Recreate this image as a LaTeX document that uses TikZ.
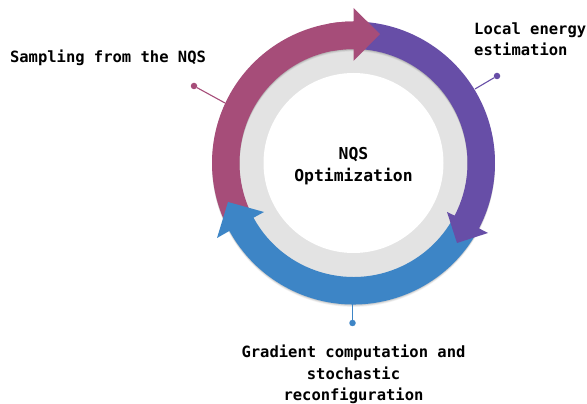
\documentclass[tikz,border=0pt]{standalone}
\usepackage{fontspec}
\setmainfont{DejaVu Sans Mono}
\definecolor{cred}{HTML}{A64D79}
\definecolor{cpur}{HTML}{674EA7}
\definecolor{cblu}{HTML}{3D85C6}
\definecolor{cgry}{HTML}{E3E3E3}
\def\Ro{141.5}
\def\Ri{114}
\begin{document}
\begin{tikzpicture}[x=1pt,y=1pt,
  label text/.style={font=\fontsize{15.5}{21.5}\selectfont\bfseries,text=black,align=center,inner sep=0pt},
  centre text/.style={font=\fontsize{16.4}{22}\selectfont\bfseries,text=black,align=center,inner sep=0pt},
  dot/.style={circle,fill=#1,inner sep=0pt,minimum size=6.5pt},
  leader/.style={draw=#1,line width=1.1pt}]
\useasboundingbox (0,0) rectangle (587,404);
\coordinate (C) at (353.5,241);
% grey ring
\fill[cgry] (C) circle (\Ri+2);
\fill[white] (C) circle (90);
% soft shadow, falling downwards only
\foreach \d/\o in {2.4/.05,1.6/.07,.8/.09}{
  \fill[black,opacity=\o,even odd rule] ([yshift=-\d pt]C) circle (\Ro) ([yshift=-\d pt]C) circle (\Ri);
}
% arrows
\fill[cred] ([shift={(205:\Ro)}]C) arc (205:90:\Ro) -- ([shift={(90:\Ri)}]C) arc (90:205:\Ri) -- cycle;
\fill[cblu] ([shift={(-29:\Ro)}]C) arc (-29:-151.3:\Ro) -- (217,166) -- (228,202) -- (264,192) -- ([shift={(-151.3:\Ri)}]C) arc (-151.3:-29:\Ri) -- cycle;
\fill[cpur] ([shift={(88:\Ro)}]C) arc (88:-27.5:\Ro) -- (488,171) -- (457,161) -- (447,192) -- ([shift={(-27.5:\Ri)}]C) arc (-27.5:88:\Ri) -- cycle;
\fill[cred] ([shift={(100:\Ro)}]C) arc (100:90:\Ro) -- (353.5,396) -- (380,370) -- (353.5,343) -- ([shift={(90:\Ri)}]C) arc (90:100:\Ri) -- cycle;
% connectors
\node[dot=cred] (dotr) at (194,318) {};
\node[dot=cpur] (dotp) at (497,328) {};
\node[dot=cblu] (dotb) at (352.5,81) {};
\coordinate (ringr) at (225,301);
\coordinate (ringp) at (475,315);
\coordinate (ringb) at (352.5,100);
\draw[leader=cred] (dotr) -- (ringr);
\draw[leader=cpur] (dotp) -- (ringp);
\draw[leader=cblu] (dotb) -- (ringb);
% labels
\node[centre text] (tc) at (353.5,238) {NQS\\Optimization};
\node[label text] (ts) at (108,346.5) {Sampling from the NQS};
\node[label text,align=left,anchor=west] (tl) at (474,365) {Local energy\\estimation};
\node[label text] (tg) at (353.5,29.5) {Gradient computation and\\stochastic\\reconfiguration};
\end{tikzpicture}
\end{document}
